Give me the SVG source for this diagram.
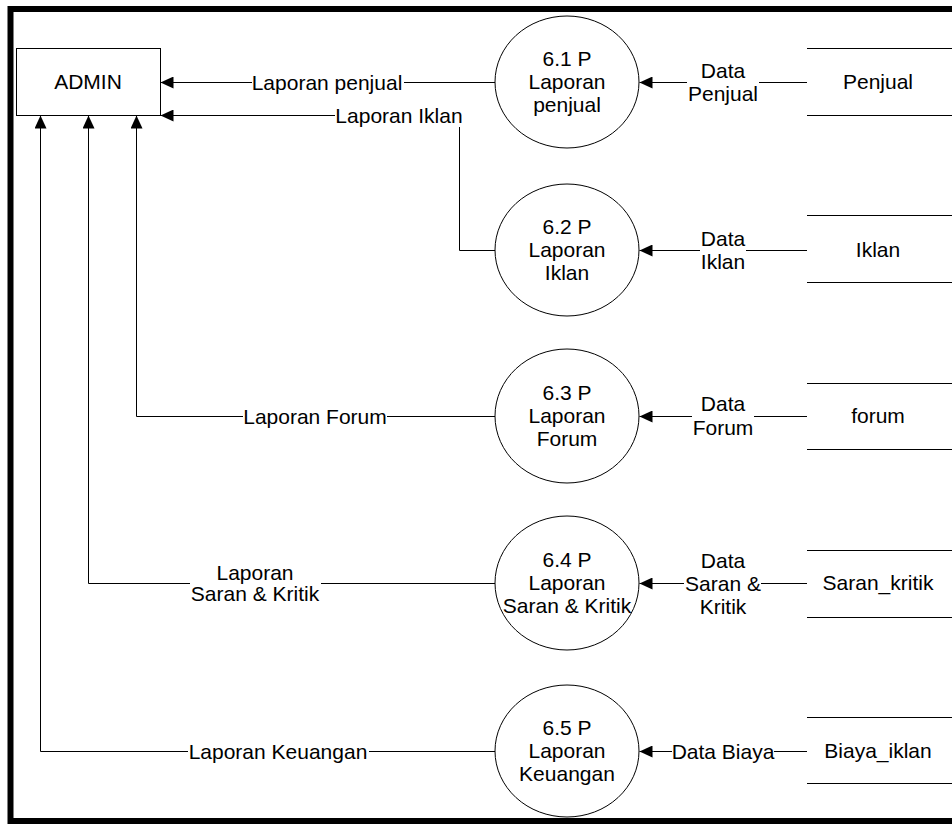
<svg xmlns="http://www.w3.org/2000/svg" width="952" height="826" viewBox="0 0 952 826">
<style>
text{font-family:"Liberation Sans",Arial,sans-serif;font-size:21px;fill:#000;text-anchor:middle}
.ln{stroke:#000;stroke-width:1;fill:none}
.bg{fill:#fff}
.proc{fill:#fff;stroke:#000;stroke-width:1}
</style>
<defs>
<marker id="arr" markerUnits="userSpaceOnUse" markerWidth="14" markerHeight="12" refX="13" refY="6" orient="auto">
<path d="M0,0 L13,6 L0,12 Z" fill="#000"/>
</marker>
</defs>
<rect x="10.5" y="9" width="960" height="812" fill="none" stroke="#000" stroke-width="6"/>
<g id="connectors">
<path class="ln" d="M495,82.5 H160.5" marker-end="url(#arr)"/>
<path class="ln" d="M495,250.5 H459.5 V115.5 H160.5" marker-end="url(#arr)"/>
<path class="ln" d="M495,416.5 H136.5 V115.5" marker-end="url(#arr)"/>
<path class="ln" d="M495,583.5 H88.5 V115.5" marker-end="url(#arr)"/>
<path class="ln" d="M495,751.5 H40.5 V115.5" marker-end="url(#arr)"/>
<path class="ln" d="M807,82.5 H639.5" marker-end="url(#arr)"/>
<path class="ln" d="M807,250.5 H639.5" marker-end="url(#arr)"/>
<path class="ln" d="M807,416.5 H639.5" marker-end="url(#arr)"/>
<path class="ln" d="M807,583.5 H639.5" marker-end="url(#arr)"/>
<path class="ln" d="M807,751.5 H639.5" marker-end="url(#arr)"/>
<rect class="bg" x="252" y="71" width="152" height="24"/>
<text x="327" y="90">Laporan penjual</text>
<rect class="bg" x="335" y="103" width="129" height="24"/>
<text x="399" y="123">Laporan Iklan</text>
<rect class="bg" x="243" y="404" width="144" height="24"/>
<text x="315" y="424">Laporan Forum</text>
<rect class="bg" x="190" y="561" width="131" height="44"/>
<text x="255" y="580">Laporan</text>
<text x="255" y="601">Saran &amp; Kritik</text>
<rect class="bg" x="188" y="740" width="181" height="24"/>
<text x="278" y="759">Laporan Keuangan</text>
<rect class="bg" x="687" y="58" width="72" height="46"/>
<text x="723" y="78">Data</text>
<text x="723" y="101">Penjual</text>
<rect class="bg" x="700" y="226" width="46" height="46"/>
<text x="723" y="246">Data</text>
<text x="723" y="269">Iklan</text>
<rect class="bg" x="692" y="392" width="62" height="46"/>
<text x="723" y="411">Data</text>
<text x="723" y="435">Forum</text>
<rect class="bg" x="684" y="548" width="77" height="68"/>
<text x="723" y="568">Data</text>
<text x="723" y="591">Saran &amp;</text>
<text x="723" y="614">Kritik</text>
<rect class="bg" x="672" y="740" width="102" height="24"/>
<text x="723" y="759">Data Biaya</text>
</g>
<g id="admin">
<rect x="16.5" y="48.5" width="144" height="67" fill="#fff" stroke="#000" stroke-width="1"/>
<text x="88" y="89">ADMIN</text>
</g>
<g id="p61">
<ellipse class="proc" cx="567" cy="82" rx="72" ry="66"/>
<text x="567" y="66">6.1 P</text>
<text x="567" y="89">Laporan</text>
<text x="567" y="112">penjual</text>
</g>
<g id="p62">
<ellipse class="proc" cx="567" cy="250" rx="72" ry="66"/>
<text x="567" y="234">6.2 P</text>
<text x="567" y="257">Laporan</text>
<text x="567" y="280">Iklan</text>
</g>
<g id="p63">
<ellipse class="proc" cx="567" cy="416" rx="72" ry="67"/>
<text x="567" y="400">6.3 P</text>
<text x="567" y="423">Laporan</text>
<text x="567" y="446">Forum</text>
</g>
<g id="p64">
<ellipse class="proc" cx="567" cy="583" rx="72" ry="67"/>
<text x="567" y="567">6.4 P</text>
<text x="567" y="590">Laporan</text>
<text x="567" y="613">Saran &amp; Kritik</text>
</g>
<g id="p65">
<ellipse class="proc" cx="567" cy="751" rx="72" ry="66"/>
<text x="567" y="735">6.5 P</text>
<text x="567" y="758">Laporan</text>
<text x="567" y="781">Keuangan</text>
</g>
<g id="ds_penjual">
<path class="ln" d="M807,48.5 H952 M807,115.5 H952"/>
<text x="878" y="89">Penjual</text>
</g>
<g id="ds_iklan">
<path class="ln" d="M807,215.5 H952 M807,282.5 H952"/>
<text x="878" y="257">Iklan</text>
</g>
<g id="ds_forum">
<path class="ln" d="M807,383.5 H952 M807,449.5 H952"/>
<text x="878" y="423">forum</text>
</g>
<g id="ds_saran">
<path class="ln" d="M807,550.5 H952 M807,617.5 H952"/>
<text x="878" y="590">Saran_kritik</text>
</g>
<g id="ds_biaya">
<path class="ln" d="M807,717.5 H952 M807,783.5 H952"/>
<text x="878" y="758">Biaya_iklan</text>
</g>
</svg>
